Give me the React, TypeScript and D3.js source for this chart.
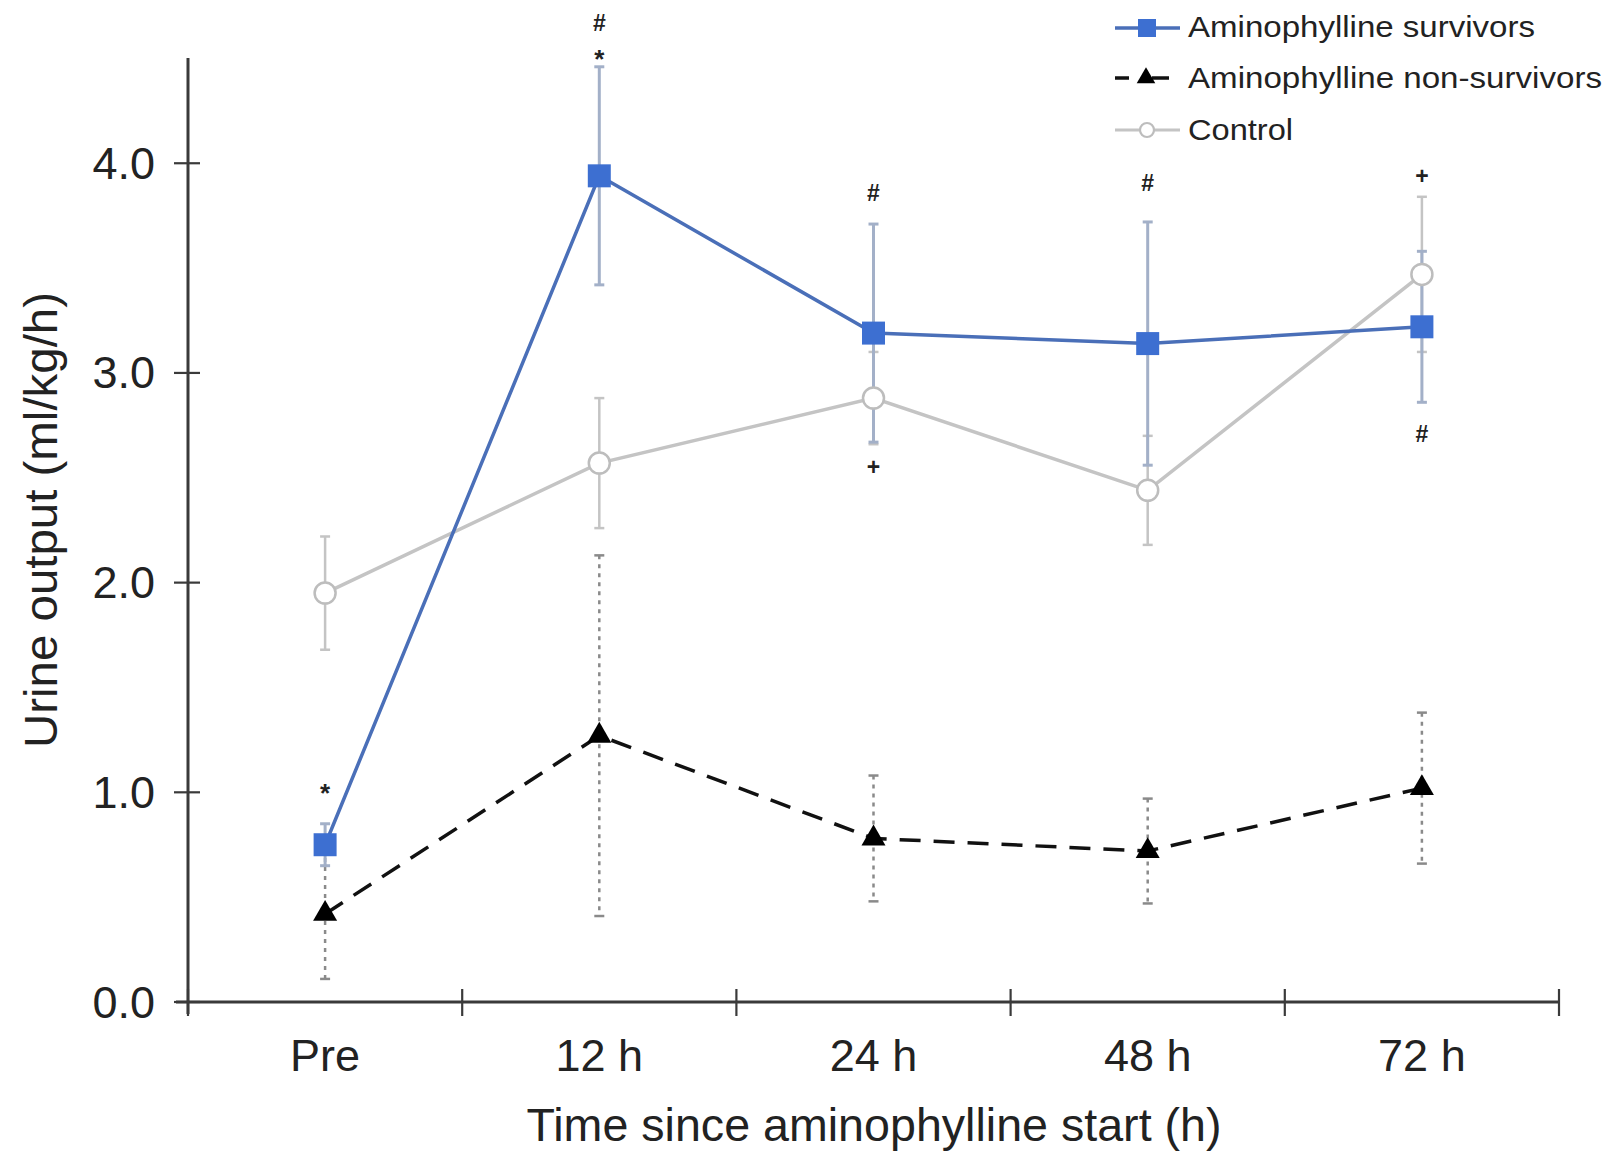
import React from 'react';
import * as d3 from 'd3';

const categories = ['Pre', '12 h', '24 h', '48 h', '72 h'];
const survivorsMean = [0.75, 3.94, 3.19, 3.14, 3.22];
const survivorsErr = [0.10, 0.52, 0.52, 0.58, 0.36];
const nonSurvivorsMean = [0.42, 1.27, 0.78, 0.72, 1.02];
const nonSurvivorsErr = [0.31, 0.86, 0.30, 0.25, 0.36];
const controlMean = [1.95, 2.57, 2.88, 2.44, 3.47];
const controlErr = [0.27, 0.31, 0.22, 0.26, 0.37];
const yTicks = [0, 1, 2, 3, 4];
const annotationCats = ['Pre', '12 h', '12 h', '24 h', '24 h', '48 h', '72 h', '72 h'];
const annotationSymbols = ['*', '#', '*', '#', '+', '#', '+', '#'];
const annotationValues = [1.03, 4.67, 4.53, 3.86, 2.55, 3.905, 3.94, 2.71];
const legendLabels = ['Aminophylline survivors', 'Aminophylline non-survivors', 'Control'];

const W = 1608;
const H = 1153;
const FONT = '"Liberation Sans", Arial, Helvetica, sans-serif';

const SURV_LINE = '#4a6fb8';
const SURV_FILL = '#3d6fd1';
const SURV_ERR = '#a3b0c8';
const CTRL = '#c4c4c4';
const AXIS = '#3a3a3a';

export default function App() {
  const x = d3.scaleBand<string>().domain(categories).range([188, 1559]).paddingInner(0).paddingOuter(0);
  const y = d3.scaleLinear().domain([0, 4.5]).range([1002, 58.4]);
  const cx = (c: string) => (x(c) as number) + x.bandwidth() / 2;

  const line = d3
    .line<[string, number]>()
    .x((d) => cx(d[0]))
    .y((d) => y(d[1]));

  const survPts = categories.map((c, i) => [c, survivorsMean[i]] as [string, number]);
  const nonPts = categories.map((c, i) => [c, nonSurvivorsMean[i]] as [string, number]);
  const ctrlPts = categories.map((c, i) => [c, controlMean[i]] as [string, number]);

  const square = d3.symbol().type(d3.symbolSquare).size(23 * 23)();
  const triangle = d3.symbol().type(d3.symbolTriangle).size(250)();
  const squareSmall = d3.symbol().type(d3.symbolSquare).size(18 * 18)();
  const triangleSmall = d3.symbol().type(d3.symbolTriangle).size(150)();

  const errBars = (
    means: number[],
    errs: number[],
    stroke: string,
    width: number,
    dash?: string,
    key?: string
  ) =>
    categories.map((c, i) => {
      const xc = cx(c);
      const y1 = y(means[i] + errs[i]);
      const y2 = y(means[i] - errs[i]);
      return (
        <g key={`${key}-${i}`} stroke={stroke} strokeWidth={width} fill="none">
          <line x1={xc} x2={xc} y1={y1} y2={y2} strokeDasharray={dash} />
          <line x1={xc - 5} x2={xc + 5} y1={y1} y2={y1} />
          <line x1={xc - 5} x2={xc + 5} y1={y2} y2={y2} />
        </g>
      );
    });

  const xBoundaries = [...categories.map((c) => x(c) as number), 1559];

  const legendRows = [28, 78, 130];
  const legendBase = [37, 88, 140];
  const legendLengths = [347, 414, 105];

  return (
    <svg
      width={W}
      height={H}
      viewBox={`0 0 ${W} ${H}`}
      style={{ position: 'absolute', left: 0, top: 0, background: '#fff' }}
      fontFamily={FONT}
    >
      <rect x={0} y={0} width={W} height={H} fill="#fff" />

      {/* axes */}
      <g stroke={AXIS} strokeWidth={3}>
        <line x1={188} x2={188} y1={58} y2={1014} />
        <line x1={176} x2={1559} y1={1002} y2={1002} />
        {yTicks.map((t) => (
          <line key={`yt${t}`} x1={174} x2={200} y1={y(t)} y2={y(t)} strokeWidth={2.2} />
        ))}
        {xBoundaries.map((b, i) => (
          <line key={`xt${i}`} x1={b} x2={b} y1={989} y2={1016} strokeWidth={2.2} />
        ))}
      </g>
      <g fontSize={45} fill="#222" textAnchor="end">
        {yTicks.map((t) => (
          <text key={`yl${t}`} x={155} y={y(t)} dominantBaseline="central">
            {d3.format('.1f')(t)}
          </text>
        ))}
      </g>
      <g fontSize={45} fill="#222" textAnchor="middle">
        {categories.map((c) => (
          <text key={`xl${c}`} x={cx(c)} y={1071}>
            {c}
          </text>
        ))}
      </g>
      <text
        x={874}
        y={1141}
        fontSize={47}
        fill="#222"
        textAnchor="middle"
        textLength={695}
        lengthAdjust="spacingAndGlyphs"
      >
        Time since aminophylline start (h)
      </text>
      <text
        transform="translate(57,520) rotate(-90)"
        fontSize={46}
        fill="#222"
        textAnchor="middle"
        textLength={456}
        lengthAdjust="spacingAndGlyphs"
      >
        Urine output (ml/kg/h)
      </text>

      {/* error bars */}
      {errBars(controlMean, controlErr, CTRL, 2.5, undefined, 'ce')}
      {errBars(nonSurvivorsMean, nonSurvivorsErr, '#8a8a8a', 2.5, '4 5', 'ne')}
      {errBars(survivorsMean, survivorsErr, SURV_ERR, 3, undefined, 'se')}

      {/* lines */}
      <path d={line(ctrlPts) as string} fill="none" stroke={CTRL} strokeWidth={3.5} />
      <path
        d={line(nonPts) as string}
        fill="none"
        stroke="#111"
        strokeWidth={3.5}
        strokeDasharray="21 13"
      />
      <path d={line(survPts) as string} fill="none" stroke={SURV_LINE} strokeWidth={3.5} />

      {/* markers */}
      {nonPts.map((p, i) => (
        <path key={`tri${i}`} d={triangle as string} transform={`translate(${cx(p[0])},${y(p[1])})`} fill="#000" />
      ))}
      {survPts.map((p, i) => (
        <path key={`sq${i}`} d={square as string} transform={`translate(${cx(p[0])},${y(p[1])})`} fill={SURV_FILL} />
      ))}
      {ctrlPts.map((p, i) => (
        <circle key={`ci${i}`} cx={cx(p[0])} cy={y(p[1])} r={10.5} fill="#fff" stroke="#bdbdbd" strokeWidth={2.5} />
      ))}

      {/* significance annotations */}
      <g fill="#222" textAnchor="middle" fontWeight="bold">
        {annotationSymbols.map((s, i) => (
          <text
            key={`an${i}`}
            x={cx(annotationCats[i])}
            y={y(annotationValues[i])}
            fontSize={s === '*' ? 26 : 23}
            dominantBaseline="central"
            dy={s === '*' ? '0.25em' : 0}
          >
            {s}
          </text>
        ))}
      </g>

      {/* legend */}
      <g>
        <line x1={1115} x2={1180} y1={legendRows[0]} y2={legendRows[0]} stroke={SURV_LINE} strokeWidth={3.5} />
        <path d={squareSmall as string} transform={`translate(1147,${legendRows[0]})`} fill={SURV_FILL} />

        <line x1={1115} x2={1129} y1={legendRows[1]} y2={legendRows[1]} stroke="#111" strokeWidth={3.5} />
        <line x1={1152} x2={1169} y1={legendRows[1]} y2={legendRows[1]} stroke="#111" strokeWidth={3.5} />
        <path d={triangleSmall as string} transform={`translate(1146,${legendRows[1]})`} fill="#000" />

        <line x1={1115} x2={1180} y1={legendRows[2]} y2={legendRows[2]} stroke={CTRL} strokeWidth={3} />
        <circle cx={1147} cy={legendRows[2]} r={7} fill="#fff" stroke="#bdbdbd" strokeWidth={2.2} />

        {legendLabels.map((l, i) => (
          <text
            key={`lg${i}`}
            x={1188}
            y={legendBase[i]}
            fontSize={30}
            fill="#222"
            textLength={legendLengths[i]}
            lengthAdjust="spacingAndGlyphs"
          >
            {l}
          </text>
        ))}
      </g>
    </svg>
  );
}
